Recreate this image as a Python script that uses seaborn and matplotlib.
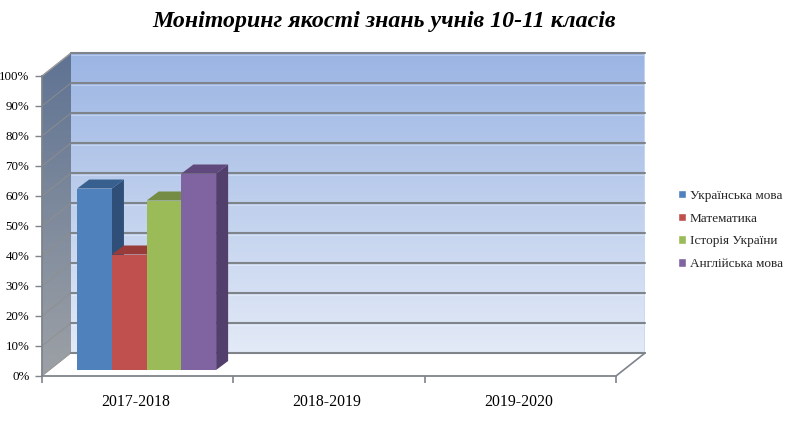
"""
3D-look column chart: monitoring of knowledge quality, grades 10-11
"""
import numpy as np
import pandas as pd

import matplotlib
matplotlib.use('Agg')
import matplotlib.pyplot as plt
from matplotlib.patches import Polygon
from matplotlib.transforms import Affine2D
import seaborn as sns

years = ['2017-2018', '2018-2019', '2019-2020']
subjects = ['Українська мова', 'Математика', 'Історія України', 'Англійська мова']
ukrainian = [60.5, np.nan, np.nan]
maths = [38.5, np.nan, np.nan]
history = [56.5, np.nan, np.nan]
english = [65.5, np.nan, np.nan]
y_ticks = [0, 10, 20, 30, 40, 50, 60, 70, 80, 90, 100]
title = 'Моніторинг якості знань учнів 10-11 класів'

colors = ['#4F81BD', '#C0504D', '#9BBB59', '#8064A2']
side_colors = ['#2F4F78', '#8A3634', '#6E8540', '#533F6C']
top_colors = ['#38608F', '#983B39', '#748C43', '#60497C']
GRID = '#7f848b'

W, H = 785, 429

sns.set_theme(style='white')
plt.rcParams['font.family'] = ['Liberation Serif', 'DejaVu Serif']

df = pd.DataFrame({
    'year': np.tile(years, len(subjects)),
    'subject': np.repeat(subjects, len(years)),
    'value': ukrainian + maths + history + english,
})

fig = plt.figure(figsize=(W / 100, H / 100), dpi=100)


def px_axes(left, top, right, bottom):
    return fig.add_axes([left / W, 1 - bottom / H, (right - left) / W, (bottom - top) / H])


# back wall, with its own grid
ax_back = px_axes(71, 53, 645, 353)
ax_back.imshow(np.linspace(0, 1, 256).reshape(-1, 1), extent=(0, 1, 0, 100), aspect='auto',
               cmap=matplotlib.colors.LinearSegmentedColormap.from_list('wall', ['#9bb5e3', '#e3eaf7']),
               origin='upper', zorder=0)
ax_back.set_xlim(0, 1)
ax_back.set_ylim(0, 100)
ax_back.set_yticks(y_ticks)
ax_back.set_xticks([])
ax_back.tick_params(left=False, labelleft=False)
ax_back.grid(axis='y', color=GRID, lw=1.5, zorder=2)
ax_back.set_axisbelow(False)
# thin highlight under each grid line and down the right edge
ax_back.hlines([v - 0.7 for v in y_ticks], 0, 1, color='white', lw=0.7, alpha=0.3, zorder=1)
ax_back.axvline(1, color='#c9d8f5', lw=1.2, zorder=1)
sns.despine(ax=ax_back, left=True, bottom=True, right=True, top=True)
for gl in ax_back.get_ygridlines():
    gl.set_clip_on(False)

# front plane: carries the real axes
ax = px_axes(42, 76, 616, 376)
ax.patch.set_alpha(0)
ax.set_xlim(0, 3)
ax.set_ylim(0, 100)
ax.set_xticks([0, 1, 2, 3])
ax.set_xticklabels([])
ax.set_xticks([0.5, 1.5, 2.5], labels=years, minor=True)
ax.set_yticks(y_ticks, labels=[f'{v}%' for v in y_ticks])
ax.tick_params(axis='y', left=True, length=5, width=1, color=GRID, labelsize=9.3, pad=4, labelcolor='black')
ax.tick_params(axis='x', which='major', bottom=True, length=5, width=1.2, color=GRID)
ax.tick_params(axis='x', which='minor', bottom=False, labelsize=11.3, pad=9, labelcolor='black')
for lbl in ax.get_xticklabels(minor=True):
    lbl.set_transform(lbl.get_transform() + Affine2D().translate(-2, 0))
sns.despine(ax=ax, top=True, right=True)
for side in ['left', 'bottom']:
    ax.spines[side].set_color(GRID)
    ax.spines[side].set_linewidth(1.3)

# side wall and floor edge, joining the two planes
to_px = ax.transData.transform
back_px = ax_back.transData.transform
side = fig.add_axes([0, 0, 1, 1], zorder=-1)
side.set_xlim(0, W)
side.set_ylim(0, H)
side.axis('off')
p0, p1 = to_px((0, 0)), to_px((0, 100))
q0, q1 = back_px((0, 0)), back_px((0, 100))
wall = Polygon([p0, p1, q1, q0], closed=True, transform=None, fc='none', ec='none')
side.add_patch(wall)
grad = side.imshow(np.linspace(0, 1, 256).reshape(-1, 1), extent=(p0[0], q0[0], p0[1], q1[1]), aspect='auto',
                   cmap=matplotlib.colors.LinearSegmentedColormap.from_list('side', ['#5f7393', '#9da1a6']),
                   origin='upper')
grad.set_clip_path(wall)
side.set_xlim(0, W)
side.set_ylim(0, H)
for v in y_ticks:
    a, b = to_px((0, v)), back_px((0, v))
    side.plot([a[0], b[0]], [a[1], b[1]], color='#8f8f8c', lw=0.6, clip_on=False)
side.plot([p1[0], q1[0]], [p1[1], q1[1]], color='#9a9a9a', lw=1, clip_on=False)
a, b = to_px((3, 0)), back_px((1, 0))
ax_floor = fig.add_axes([0, 0, 1, 1], zorder=3)
ax_floor.set_xlim(0, W)
ax_floor.set_ylim(0, H)
ax_floor.axis('off')
ax_floor.plot([a[0], b[0]], [a[1], b[1]], color=GRID, lw=1.2)

# columns stand a little behind the front plane
ax_bar = px_axes(51, 70, 625, 370)
ax_bar.set_zorder(4)
ax_bar.patch.set_alpha(0)
sns.barplot(data=df, x='year', y='value', hue='subject', order=years, hue_order=subjects,
            palette=colors, saturation=1, width=0.726, gap=0, errorbar=None, ax=ax_bar)
ax_bar.set_xlim(-0.5, 2.5)
ax_bar.set_ylim(0, 100)
ax_bar.axis('off')

DX, DY = 12, 9
for i, container in enumerate(ax_bar.containers):
    for bar in container:
        if np.isnan(bar.get_height()):
            continue
        x0, y1 = ax_bar.transData.transform((bar.get_x(), bar.get_height()))
        x1, y0 = ax_bar.transData.transform((bar.get_x() + bar.get_width(), 0))
        z = 2 + i * 3
        ax_bar.add_patch(Polygon([(x1, y0), (x1 + DX, y0 + DY), (x1 + DX, y1 + DY), (x1, y1)],
                                 transform=None, fc=side_colors[i], ec='none', zorder=z, clip_on=False))
        ax_bar.add_patch(Polygon([(x0, y1), (x1, y1), (x1 + DX, y1 + DY), (x0 + DX, y1 + DY)],
                                 transform=None, fc=top_colors[i], ec='none', zorder=z + 1, clip_on=False))
        bar.set_zorder(z + 2)
        bar.set_linewidth(0)

sns.move_legend(ax_bar, loc='center left', bbox_to_anchor=(677.5 / W, 1 - 230 / H),
                bbox_transform=fig.transFigure, title=None, frameon=False,
                fontsize=9.5, handlelength=0.62, handleheight=0.62, handletextpad=0.32,
                labelspacing=0.82, borderpad=0, borderaxespad=0)

fig.text(384 / W, 1 - 22 / H, title, ha='center', va='center', fontsize=17.2,
         fontweight='bold', fontstyle='italic', color='black')

plt.savefig('out.png', dpi=100)
plt.close()
